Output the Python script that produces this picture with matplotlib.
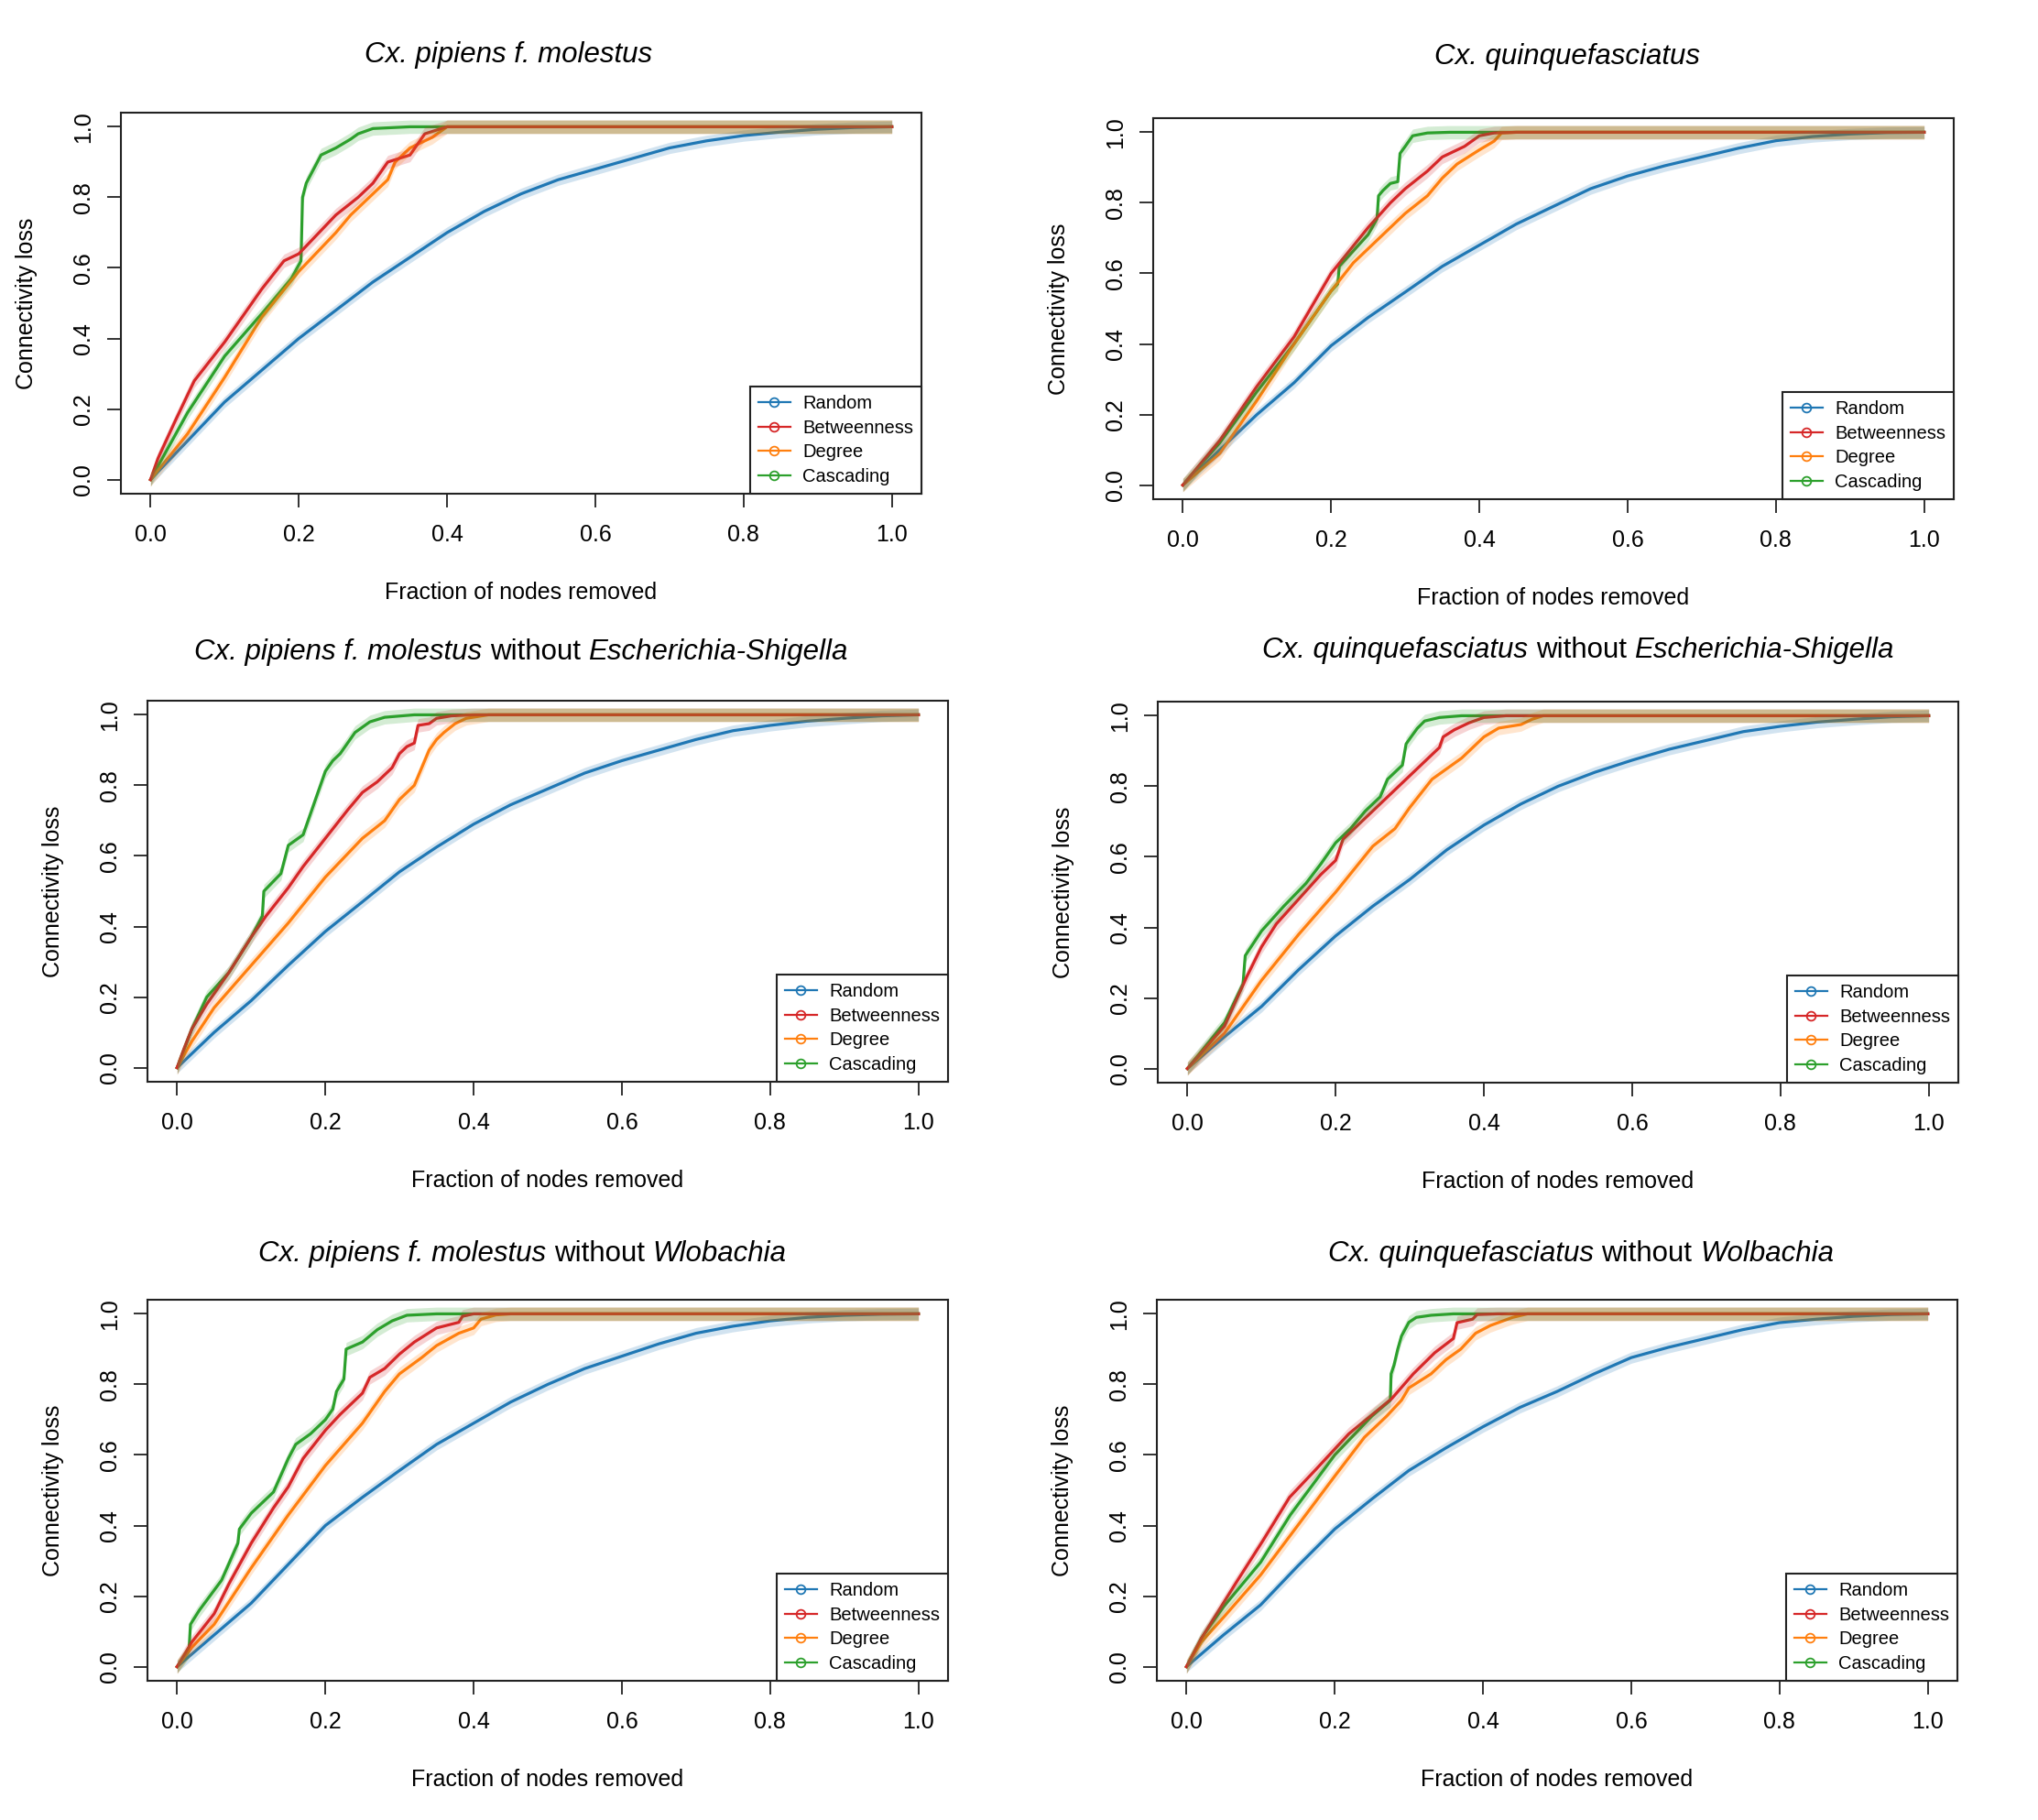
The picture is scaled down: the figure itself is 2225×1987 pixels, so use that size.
import matplotlib
matplotlib.use("Agg")
import matplotlib.pyplot as plt
from matplotlib.lines import Line2D

plt.rcParams['font.family'] = ['Liberation Sans', 'DejaVu Sans']

# series names and colours
LABELS = ['Random', 'Betweenness', 'Degree', 'Cascading']
COLORS = ['#1f77b4', '#d62728', '#ff7f0e', '#2ca02c']

# titles as (text, style) pieces
TITLES = [
    [('Cx. pipiens f. molestus', 'italic')],
    [('Cx. quinquefasciatus', 'italic')],
    [('Cx. pipiens f. molestus', 'italic'), ('without', 'normal'), ('Escherichia-Shigella', 'italic')],
    [('Cx. quinquefasciatus', 'italic'), ('without', 'normal'), ('Escherichia-Shigella', 'italic')],
    [('Cx. pipiens f. molestus', 'italic'), ('without', 'normal'), ('Wlobachia', 'italic')],
    [('Cx. quinquefasciatus', 'italic'), ('without', 'normal'), ('Wolbachia', 'italic')],
]

# random removal, read on a common x grid
RANDOM_X = [0, .05, .1, .15, .2, .25, .3, .35, .4, .45, .5, .55, .6, .65, .7, .75, .8, .85, .9, .95, 1.0]
P1_RND = [0, .11, .22, .31, .40, .48, .56, .63, .70, .76, .81, .85, .88, .91, .94, .96, .975, .985, .993, .998, 1]
P2_RND = [0, .10, .20, .29, .395, .475, .547, .62, .68, .74, .79, .84, .876, .905, .93, .955, .976, .988, .995, .999, 1]
P3_RND = [0, .10, .19, .29, .386, .47, .555, .625, .69, .745, .79, .835, .87, .90, .93, .955, .97, .982, .99, .997, 1]
P4_RND = [0, .09, .176, .28, .376, .46, .536, .62, .69, .75, .80, .84, .874, .905, .93, .955, .97, .982, .99, .997, 1]
P5_RND = [0, .09, .18, .29, .40, .48, .556, .63, .69, .75, .80, .845, .88, .915, .945, .965, .98, .99, .996, .999, 1]
P6_RND = [0, .09, .175, .285, .39, .475, .556, .62, .68, .735, .78, .83, .876, .905, .93, .955, .975, .985, .993, .998, 1]

# panel 1
P1_BET_X = [0, .01, .033, .059, .1, .15, .18, .2, .25, .28, .3, .32, .35, .37, .4, 1]
P1_BET_Y = [0, .06, .165, .28, .39, .54, .62, .64, .75, .80, .84, .90, .92, .98, 1, 1]
P1_DEG_X = [0, .05, .1, .15, .2, .25, .27, .3, .32, .33, .35, .38, .4, 1]
P1_DEG_Y = [0, .13, .29, .46, .59, .70, .75, .81, .85, .90, .94, .97, 1, 1]
P1_CAS_X = [0, .05, .1, .15, .19, .203, .205, .21, .22, .23, .25, .27, .28, .3, .35, 1]
P1_CAS_Y = [0, .19, .35, .47, .57, .62, .80, .84, .88, .92, .94, .965, .98, .995, 1, 1]

# panel 2
P2_BET_X = [0, .05, .1, .15, .2, .25, .28, .3, .33, .35, .38, .4, .42, .45, 1]
P2_BET_Y = [0, .127, .28, .42, .60, .73, .80, .84, .89, .93, .96, .99, .998, 1, 1]
P2_DEG_X = [0, .05, .1, .15, .2, .23, .26, .3, .33, .35, .37, .4, .42, .43, .45, 1]
P2_DEG_Y = [0, .09, .24, .40, .55, .63, .69, .77, .82, .87, .91, .95, .975, .998, 1, 1]
P2_CAS_X = [0, .05, .1, .15, .2, .209, .211, .25, .262, .264, .27, .28, .29, .293, .3, .31, .33, .36, 1]
P2_CAS_Y = [0, .12, .265, .40, .55, .57, .62, .71, .755, .82, .835, .855, .86, .94, .96, .99, .998, 1, 1]

# panel 3
P3_BET_X = [0, .01, .02, .04, .07, .1, .12, .15, .17, .2, .23, .25, .27, .29, .3, .31, .32, .325, .34, .35, .37, .4, 1]
P3_BET_Y = [0, .057, .11, .18, .27, .37, .43, .51, .57, .65, .73, .78, .81, .85, .89, .91, .92, .97, .975, .99, .997, 1, 1]
P3_DEG_X = [0, .02, .05, .1, .15, .2, .25, .28, .3, .32, .33, .34, .35, .36, .375, .39, .42, 1]
P3_DEG_Y = [0, .075, .17, .29, .41, .54, .65, .70, .76, .80, .85, .90, .93, .95, .975, .99, 1, 1]
P3_CAS_X = [0, .02, .04, .07, .1, .115, .117, .14, .15, .17, .18, .19, .2, .21, .22, .23, .24, .26, .28, .32, 1]
P3_CAS_Y = [0, .11, .20, .27, .37, .43, .50, .55, .63, .66, .72, .78, .84, .87, .89, .92, .95, .98, .993, 1, 1]

# panel 4
P4_BET_X = [0, .05, .08, .1, .12, .15, .18, .2, .21, .23, .25, .27, .3, .32, .34, .345, .36, .38, .4, .43, 1]
P4_BET_Y = [0, .12, .26, .345, .41, .48, .55, .59, .65, .69, .73, .77, .83, .87, .91, .94, .96, .98, .995, 1, 1]
P4_DEG_X = [0, .05, .1, .15, .2, .25, .28, .3, .33, .35, .37, .4, .42, .45, .465, .48, 1]
P4_DEG_Y = [0, .10, .25, .38, .50, .63, .68, .74, .82, .85, .88, .94, .965, .975, .99, 1, 1]
P4_CAS_X = [0, .05, .075, .078, .1, .13, .16, .18, .2, .22, .24, .26, .27, .29, .295, .3, .31, .32, .34, .37, 1]
P4_CAS_Y = [0, .13, .24, .32, .39, .46, .525, .58, .64, .68, .73, .77, .82, .86, .92, .935, .964, .985, .995, 1, 1]

# panel 5
P5_BET_X = [0, .02, .05, .07, .1, .13, .15, .17, .2, .22, .25, .26, .28, .3, .32, .35, .38, .385, .4, 1]
P5_BET_Y = [0, .07, .15, .235, .35, .45, .51, .59, .67, .715, .775, .82, .845, .886, .92, .96, .976, .993, 1, 1]
P5_DEG_X = [0, .02, .05, .1, .15, .2, .25, .28, .3, .33, .35, .38, .4, .41, .43, .45, 1]
P5_DEG_Y = [0, .055, .12, .28, .43, .57, .69, .78, .83, .876, .91, .945, .96, .985, .997, 1, 1]
P5_CAS_X = [0, .016, .018, .03, .06, .082, .084, .1, .13, .15, .16, .18, .2, .21, .215, .225, .228, .25, .27, .29, .31, .35, 1]
P5_CAS_Y = [0, .045, .12, .16, .245, .35, .39, .435, .495, .59, .63, .66, .70, .73, .78, .815, .90, .92, .955, .98, .996, 1, 1]

# panel 6
P6_BET_X = [0, .02, .066, .103, .139, .175, .219, .248, .277, .306, .335, .36, .365, .386, .392, .42, 1]
P6_BET_Y = [0, .08, .235, .357, .48, .56, .66, .71, .76, .83, .89, .93, .975, .985, .998, 1, 1]
P6_DEG_X = [0, .02, .05, .1, .15, .2, .24, .27, .29, .3, .33, .35, .37, .39, .41, .44, .46, 1]
P6_DEG_Y = [0, .07, .14, .26, .40, .54, .65, .71, .755, .79, .83, .87, .90, .945, .967, .99, 1, 1]
P6_CAS_X = [0, .02, .05, .1, .14, .2, .25, .275, .276, .28, .285, .29, .3, .31, .33, .36, 1]
P6_CAS_Y = [0, .08, .17, .296, .43, .60, .71, .755, .83, .855, .90, .937, .976, .99, .996, 1, 1]

# half width of the shaded band per series
BAND = [0.016, 0.019, 0.019, 0.019]

panels = [
    (P1_RND, P1_BET_X, P1_BET_Y, P1_DEG_X, P1_DEG_Y, P1_CAS_X, P1_CAS_Y),
    (P2_RND, P2_BET_X, P2_BET_Y, P2_DEG_X, P2_DEG_Y, P2_CAS_X, P2_CAS_Y),
    (P3_RND, P3_BET_X, P3_BET_Y, P3_DEG_X, P3_DEG_Y, P3_CAS_X, P3_CAS_Y),
    (P4_RND, P4_BET_X, P4_BET_Y, P4_DEG_X, P4_DEG_Y, P4_CAS_X, P4_CAS_Y),
    (P5_RND, P5_BET_X, P5_BET_Y, P5_DEG_X, P5_DEG_Y, P5_CAS_X, P5_CAS_Y),
    (P6_RND, P6_BET_X, P6_BET_Y, P6_DEG_X, P6_DEG_Y, P6_CAS_X, P6_CAS_Y),
]

W, H = 2225, 1987
TITLE_SIZE = 22.5
fig = plt.figure(figsize=(W / 100, H / 100), dpi=100)
renderer = fig.canvas.get_renderer()


def text_width(s, style):
    t = fig.text(0, 0, s, fontsize=TITLE_SIZE, style=style)
    w = t.get_window_extent(renderer).width
    t.remove()
    return w


def mixed_title(xc, yc, parts):
    # place italic / upright pieces side by side, centred on xc
    space = text_width('a a', 'normal') - text_width('aa', 'normal')
    widths = [text_width(s, st) for s, st in parts]
    total = sum(widths) + space * (len(parts) - 1)
    x = xc - total / 2
    for (s, st), w in zip(parts, widths):
        fig.text(x / W, 1 - yc / H, s, fontsize=TITLE_SIZE, style=st, ha='left', va='center')
        x += w + space


# axes boxes in pixels: left, top ; title centre x, y
boxes = [(132, 123), (1259, 129), (161, 765), (1264, 766), (161, 1419), (1263, 1419)]
title_pos = [(555, 60), (1711, 62), (569, 712), (1723, 710), (570, 1369), (1726, 1369)]
bw, bh = 874, 416

for i, (rnd, bx, by, dx, dy, cx, cy) in enumerate(panels):
    left, top = boxes[i]
    ax = fig.add_axes([left / W, 1 - (top + bh) / H, bw / W, bh / H])

    series = [(RANDOM_X, rnd), (bx, by), (dx, dy), (cx, cy)]
    # lines under the shaded bands, red drawn last of the lines
    for k in [0, 3, 2, 1]:
        xs, ys = series[k]
        ax.plot(xs, ys, color=COLORS[k], lw=2.3, zorder=2)
    for k in range(4):
        xs, ys = series[k]
        lo = [v - BAND[k] for v in ys]
        hi = [v + BAND[k] for v in ys]
        ax.fill_between(xs, lo, hi, color=COLORS[k], alpha=0.2, lw=0, zorder=3)

    ax.set_xlim(-0.04, 1.04)
    ax.set_ylim(-0.04, 1.04)
    ax.set_xticks([0, 0.2, 0.4, 0.6, 0.8, 1.0])
    ax.set_yticks([0, 0.2, 0.4, 0.6, 0.8, 1.0])
    ax.set_xticklabels(['0.0', '0.2', '0.4', '0.6', '0.8', '1.0'])
    ax.set_yticklabels(['0.0', '0.2', '0.4', '0.6', '0.8', '1.0'], rotation=90, va='center')
    ax.tick_params(axis='both', direction='out', length=10.8, width=1.3, labelsize=18, color='#222222')
    ax.tick_params(axis='x', pad=13)
    ax.tick_params(axis='y', pad=10)
    for sp in ax.spines.values():
        sp.set_linewidth(1.5)
        sp.set_color('#222222')

    ax.text(0.5, -108 / bh, 'Fraction of nodes removed', transform=ax.transAxes,
            ha='center', va='center', fontsize=18)
    ax.text(-103 / bw, 0.5, 'Connectivity loss', transform=ax.transAxes,
            ha='center', va='center', rotation=90, fontsize=18)

    tx, ty = title_pos[i]
    mixed_title(tx, ty, TITLES[i])

    handles = [Line2D([0], [0], color=c, lw=1.6, marker='o', markersize=7,
                      markerfacecolor='none', markeredgewidth=1.3) for c in COLORS]
    leg = ax.legend(handles, LABELS, loc='lower right', bbox_to_anchor=(1, 0),
                    borderaxespad=0, fontsize=14.5, fancybox=False, framealpha=1,
                    edgecolor='#222222', handlelength=1.75, handletextpad=0.65,
                    labelspacing=0.38, borderpad=0.45)
    leg.get_frame().set_linewidth(1.5)
    leg.set_zorder(5)

fig.savefig('out.png', dpi=100)
